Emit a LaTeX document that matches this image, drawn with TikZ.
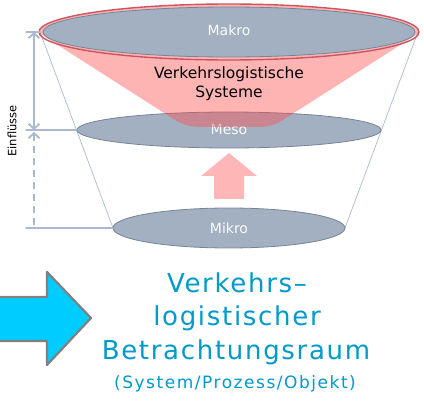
\documentclass[tikz,border=0pt]{standalone}
\usepackage{fontspec}
\setmainfont{DejaVu Sans}
\usetikzlibrary{arrows.meta}

\definecolor{lvlfill}{RGB}{162,176,193}
\definecolor{lvledge}{RGB}{118,132,148}
\definecolor{conered}{RGB}{255,77,77}
\definecolor{coneedge}{RGB}{205,85,95}
\definecolor{dimgray}{RGB}{170,186,204}
\definecolor{upink}{RGB}{255,182,182}
\definecolor{cyanfill}{RGB}{0,204,255}
\definecolor{titleblue}{RGB}{0,153,204}

\begin{document}
\begin{tikzpicture}[>=Latex, line cap=round, line join=round, x=1pt, y=1pt,
		level/.style={fill=lvlfill, draw=lvledge, line width=0.8pt},
		lvltext/.style={text=white!95!lvlfill, font=\fontsize{14}{16}\selectfont},
		dimline/.style={draw=dimgray, line width=1.8pt},
		titletext/.style={text=titleblue, font=\fontsize{26}{30}\selectfont\addfontfeatures{LetterSpace=6.5}}]
		
		\useasboundingbox (0,0) rectangle (424,-412);
		
		% --- outer funnel: side lines from Makro down to Mikro ---
		\coordinate (makroL) at (40,-32);
		\coordinate (makroR) at (418,-32);
		\coordinate (mesoL) at (77,-130);
		\coordinate (mikroL) at (113,-228);
		\coordinate (mikroR) at (345,-228);
		\draw[dimgray, line width=0.7pt] (makroL) -- (mikroL);
		\draw[dimgray, line width=0.7pt] (makroR) -- (mikroR);
		
		% --- lower levels ---
		\draw[level] (229,-130) ellipse[x radius=152, y radius=18];
		\node[lvltext] (meso) at (229,-129) {Meso};
		\draw[level] (229,-228) ellipse[x radius=116, y radius=20];
		\node[lvltext] (mikro) at (229,-228) {Mikro};
		
		% --- pink arrow Mikro -> Meso ---
		\fill[upink] (214,-199) -- (244,-199) -- (244,-176) -- (257,-176)
		-- (229,-153) -- (201,-176) -- (214,-176) -- cycle;
		
		% --- red cone of the traffic logistics systems ---
		\fill[conered, opacity=0.42] (419,-33) [rounded corners=12pt] -- (272,-127)
		-- (186,-127) [sharp corners] -- (39,-33)
		arc[start angle=180, end angle=0, x radius=190, y radius=29];
		\draw[coneedge, line width=1.4pt] (229,-32) ellipse[x radius=190, y radius=28];
		
		% --- top level ---
		\draw[level] (229,-32) ellipse[x radius=186, y radius=25];
		\node[lvltext] (makro) at (229,-30) {Makro};
		\node[align=center, font=\fontsize{15.5}{19}\selectfont] (sys) at (229,-84)
		{Verkehrslogistische\\Systeme};
		
		% --- influences on the left ---
		\coordinate (dimTop) at (34,-32);
		\coordinate (dimMid) at (34,-130);
		\coordinate (dimBot) at (34,-228);
		\draw[dimgray, line width=1.2pt] (26,-32) -- (makroL);
		\draw[dimgray, line width=1.2pt] (26,-130) -- (mesoL);
		\draw[dimgray, line width=1.2pt] (26,-228) -- (mikroL);
		\draw[dimline, {Straight Barb[length=5pt,width=11pt]}-{Straight Barb[length=5pt,width=11pt]}]
		(dimTop) -- (dimMid);
		\draw[dimline, dash pattern=on 7pt off 5pt, line cap=butt,
		{Straight Barb[length=5pt,width=11pt]}-] ([yshift=-2pt]dimMid) -- (dimBot);
		\node[rotate=90, font=\fontsize{11.5}{13}\selectfont] (einfl) at (12,-131) {Einflüsse};
		
		% --- big arrow and caption ---
		\draw[draw=gray, fill=cyanfill, line width=2.2pt] (-3,-297) -- (47,-297) -- (47,-272)
		-- (91,-318) -- (47,-365) -- (47,-341) -- (-3,-341) -- cycle;
		\node[titletext] (t1) at (237,-283) {Verkehrs–};
		\node[titletext] (t2) at (237,-318) {logistischer};
		\node[titletext] (t3) at (236,-352) {Betrachtungsraum};
		\node[text=titleblue, font=\fontsize{17}{20}\selectfont\addfontfeatures{LetterSpace=9}] (t4)
		at (235,-384) {(System/Prozess/Objekt)};
		
	\end{tikzpicture}
\end{document}
